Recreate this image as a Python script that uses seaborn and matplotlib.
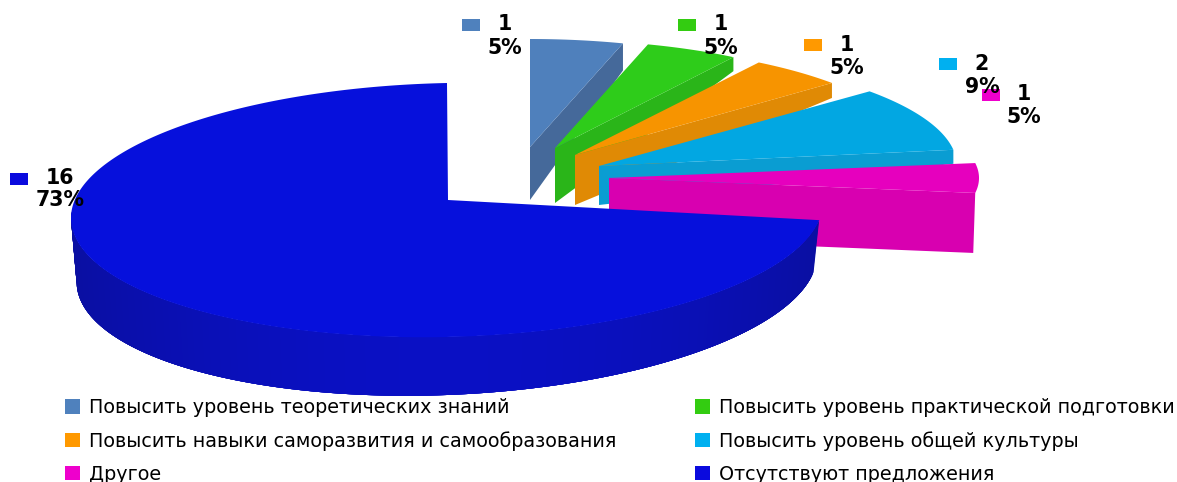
import numpy as np
import matplotlib
matplotlib.use("Agg")
import matplotlib.pyplot as plt
from matplotlib.patches import Patch, Rectangle
import seaborn as sns

# данные диаграммы
categories = [
    "Повысить уровень теоретических знаний",
    "Повысить уровень практической подготовки",
    "Повысить навыки саморазвития и самообразования",
    "Повысить уровень общей культуры",
    "Другое",
    "Отсутствуют предложения",
]
values = [1, 1, 1, 2, 1, 16]

legend_colors = ["#4F81BD", "#33CC11", "#FF9900", "#00B0F0", "#EE00CC", "#0A0ADE"]
top_colors = ["#4F80BC", "#2ECC1A", "#F79400", "#02A7E2", "#E600BE", "#0610DC"]
side_colors = ["#45699A", "#2AB519", "#E08A05", "#0A9DD2", "#D800B0", "#0A0FB4"]

# геометрия вынесенных секторов (в пикселях картинки)
apexes = [(530, 147), (555, 148), (575, 155), (599, 166), (609, 178)]
depths = [(53, 27), (55, 14), (50, 15), (39, 14), (60, 60)]
radii = [(330, 108), (330, 108), (340, 110), (358, 114), (370, 105)]

# подписи: квадрат (x, y), центр подписи (x, y)
label_boxes = [(462, 19), (678, 19), (804, 39), (939, 58), (982, 89), (10, 173)]
label_pos = [(505, 24), (721, 24), (847, 45), (982, 64), (1024, 94), (60, 178)]
label_gap = [24, 24, 23, 23, 23, 22]

sns.set_theme(style="white")
plt.rcParams["font.family"] = ["DejaVu Sans"]

fig, ax = plt.subplots(figsize=(11.77, 4.82), dpi=100)
ax.set_position([0, 0, 1, 1])
ax.set_xlim(0, 1177)
ax.set_ylim(482, 0)
ax.axis("off")

total = sum(values)
edges = 90 - np.cumsum([0] + values) / total * 360


def rim(x0, y0, a, b, t0, t1):
    t = np.radians(np.linspace(t0, t1, 80))
    return x0 + a * np.cos(t), y0 - b * np.sin(t)


# вынесенные секторы рисуем от дальнего к ближнему
for i in range(5):
    ax0, ay0 = apexes[i]
    a, b = radii[i]
    d_in, d_out = depths[i]
    x, y = rim(ax0, ay0, a, b, edges[i], edges[i + 1])
    ax.fill(
        [ax0, ax0, x[-1] - 2 * (i == 4), x[-1]],
        [ay0, ay0 + d_in, y[-1] + d_out, y[-1]],
        color=side_colors[i], lw=0,
    )
    ax.fill(np.r_[ax0, x], np.r_[ay0, y], color=top_colors[i], lw=0)

# большой сектор
cx, cy, a, b = 447, 210, 376, 127
t = np.linspace(edges[5], edges[6], 400)
tr = np.radians(t)
x = cx + a * np.cos(tr)
y = cy - b * np.sin(tr) - 8 * np.cos(tr)

# боковая стенка с лёгким затемнением к краям, куски внахлёст чтобы не было швов
front = np.where(np.sin(tr) < 0.05)[0]
side_mid = np.array(matplotlib.colors.to_rgb("#0A10C4"))
side_edge = np.array(matplotlib.colors.to_rgb("#0A0FA2"))
runs = np.split(front, np.where(np.diff(front) > 1)[0] + 1)
run = max(runs, key=len)
for s in range(0, len(run) - 1):
    idx = run[s:s + 6]
    k = np.abs(np.cos(tr[idx[0]])) ** 2
    c = side_mid * (1 - k) + side_edge * k
    xs, ys = x[idx], y[idx]
    d = 58 - 6 * np.cos(tr[idx])
    xl = cx + (xs - cx) * 0.985
    ax.fill(np.r_[xs, xl[::-1]], np.r_[ys, (ys + d)[::-1]], color=c, lw=0)
ax.fill(np.r_[448, x], np.r_[200, y], color=top_colors[5], lw=0)

# подписи значений
for i, v in enumerate(values):
    bx, by = label_boxes[i]
    ax.add_patch(Rectangle((bx, by), 18, 12, color=legend_colors[i], lw=0))
    lx, ly = label_pos[i]
    ax.text(lx, ly, str(v), ha="center", va="center", fontsize=14.8, fontweight="bold", color="black")
    ax.text(lx, ly + label_gap[i], f"{round(v / total * 100)}%", ha="center", va="center",
            fontsize=14.8, fontweight="bold", color="black")

# легенда в две колонки
handles = [Patch(facecolor=c, edgecolor="none", label=n) for c, n in zip(legend_colors, categories)]
order = [0, 2, 4, 1, 3, 5]
ax.legend(
    [handles[i] for i in order], [categories[i] for i in order],
    ncol=2, loc="upper left", bbox_to_anchor=(65 / 1177, 1 - 398 / 482), borderaxespad=0, borderpad=0,
    frameon=False, fontsize=13.8, labelcolor="black", handlelength=0.8, handleheight=0.8,
    handletextpad=0.45, columnspacing=4.1, labelspacing=0.73,
)

fig.savefig("out.png", dpi=100)
plt.close(fig)
